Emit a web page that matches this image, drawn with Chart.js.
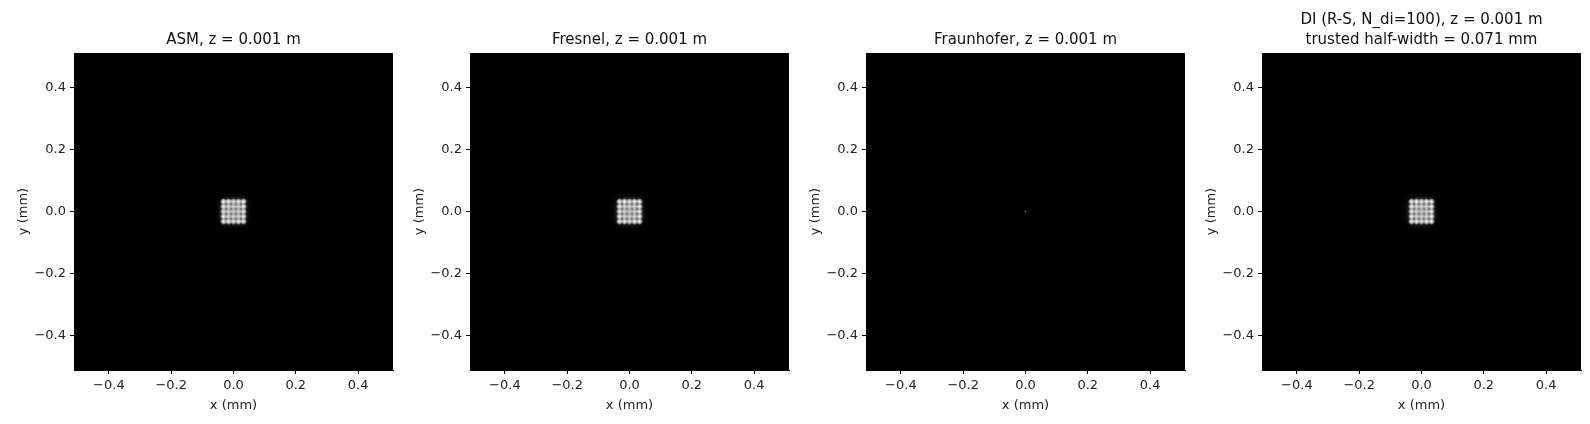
<!DOCTYPE html>
<html><head><meta charset="utf-8">
<script src="https://cdn.jsdelivr.net/npm/chart.js@4/dist/chart.umd.min.js"></script>
<style>
body{margin:0;background:#fff;width:1590px;height:424px;position:relative;overflow:hidden;font-family:"DejaVu Sans",sans-serif}
.p{position:absolute;top:0;height:424px}
.t{position:absolute;text-align:center;font-size:15px;color:#111;line-height:20px;white-space:nowrap}
</style></head><body>
<script>
const titles = ["ASM, z = 0.001 m","Fresnel, z = 0.001 m","Fraunhofer, z = 0.001 m","DI (R-S, N_di=100), z = 0.001 m\ntrusted half-width = 0.071 mm"];
const plotLeft = [74, 470, 866, 1262];
const tickVals = [-0.4,-0.2,0,0.2,0.4];
const axisMin = -0.512, axisMax = 0.512;
const spotPos = [-0.032,-0.016,0,0.016,0.032];
// brightness per spot row/col (edge spots brighter)
const spotGain = [1.0,0.8,0.75,0.8,1.0];
const fraunX = [0], fraunY = [0];

const PW = 319, PH = 317, PTOP = 53, YW = 58, PADL = 16, PADB = 11;
function spots(){const d=[];spotPos.forEach((y,i)=>spotPos.forEach((x,j)=>d.push({x,y,b:Math.min(1,spotGain[i]*spotGain[j]+0.2)})));return d;}
const glow = {id:'glow',
 beforeDraw(c){const a=c.chartArea,ctx=c.ctx;ctx.save();ctx.fillStyle='#000';ctx.fillRect(a.left,a.top,a.right-a.left,a.bottom-a.top);ctx.restore();},
 afterDatasetsDraw(c){const ctx=c.ctx,a=c.chartArea;ctx.save();ctx.beginPath();ctx.rect(a.left,a.top,a.right-a.left,a.bottom-a.top);ctx.clip();
  c.data.datasets.forEach((ds,di)=>{const m=c.getDatasetMeta(di);
   if(ds.kind==='grid'){
     const xs=c.scales.x, ys=c.scales.y;
     const x0=xs.getPixelForValue(-0.036),x1=xs.getPixelForValue(0.036),y0=ys.getPixelForValue(0.036),y1=ys.getPixelForValue(-0.036);
     ctx.save();ctx.filter='blur(3px)';ctx.fillStyle='rgba(120,120,120,0.85)';ctx.fillRect(x0,y0,x1-x0,y1-y0);ctx.restore();
     m.data.forEach((p,k)=>{const b=ds.data[k].b;const r=3.6;
       const gg=ctx.createRadialGradient(p.x,p.y,0,p.x,p.y,r);
       gg.addColorStop(0,`rgba(255,255,255,${b})`);gg.addColorStop(0.55,`rgba(235,235,235,${b*0.65})`);gg.addColorStop(1,'rgba(200,200,200,0)');
       ctx.fillStyle=gg;ctx.fillRect(p.x-r,p.y-r,2*r,2*r);});
   } else {
     m.data.forEach(p=>{ctx.fillStyle='rgba(150,150,150,0.9)';ctx.fillRect(p.x-0.7,p.y-0.7,1.4,1.4);});
   }});
  ctx.restore();}};
function fmt(v){const s=Math.abs(v)<1e-9?'0.0':Math.abs(v).toFixed(1);return v<-1e-9?'\u2212'+s:s;}
function axis(title,isY){return {type:'linear',min:axisMin,max:axisMax,
  afterBuildTicks:s=>{s.ticks=tickVals.map(v=>({value:v}));},
  afterFit:s=>{if(isY)s.width=YW;else s.height=424-PTOP-PH-PADB;},
  grid:{drawOnChartArea:false,color:'#000',tickLength:4,tickWidth:1},
  border:{color:'#000'},
  ticks:{color:'#222',font:{family:'DejaVu Sans',size:13},callback:v=>fmt(v),padding:4,maxRotation:0},
  title:{display:true,text:title,color:'#222',font:{family:'DejaVu Sans',size:13},padding:isY?{top:0,bottom:3}:{top:1,bottom:0}}};}
titles.forEach((t,i)=>{
  const div=document.createElement('div');div.className='p';div.style.left=(plotLeft[i]-YW-PADL)+'px';div.style.width=(YW+PADL+PW+4)+'px';
  const cv=document.createElement('canvas');div.appendChild(cv);document.body.appendChild(div);
  const tt=document.createElement('div');tt.className='t';const lines=t.split('\n');
  tt.innerHTML=lines.join('<br>');tt.style.left=plotLeft[i]+'px';tt.style.width=PW+'px';tt.style.top=(lines.length>1?9:29)+'px';document.body.appendChild(tt);
  const data = i===2 ? [{kind:'pt',data:fraunX.map((x,k)=>({x,y:fraunY[k]})),pointRadius:0}] : [{kind:'grid',data:spots(),pointRadius:0}];
  new Chart(cv,{type:'scatter',data:{datasets:data},plugins:[glow],
   options:{responsive:true,maintainAspectRatio:false,animation:false,events:[],
    layout:{padding:{top:PTOP,right:4,left:PADL,bottom:PADB}},
    plugins:{legend:{display:false},tooltip:{enabled:false}},
    scales:{x:axis('x (mm)',false),y:axis('y (mm)',true)}}});
});
</script></body></html>
